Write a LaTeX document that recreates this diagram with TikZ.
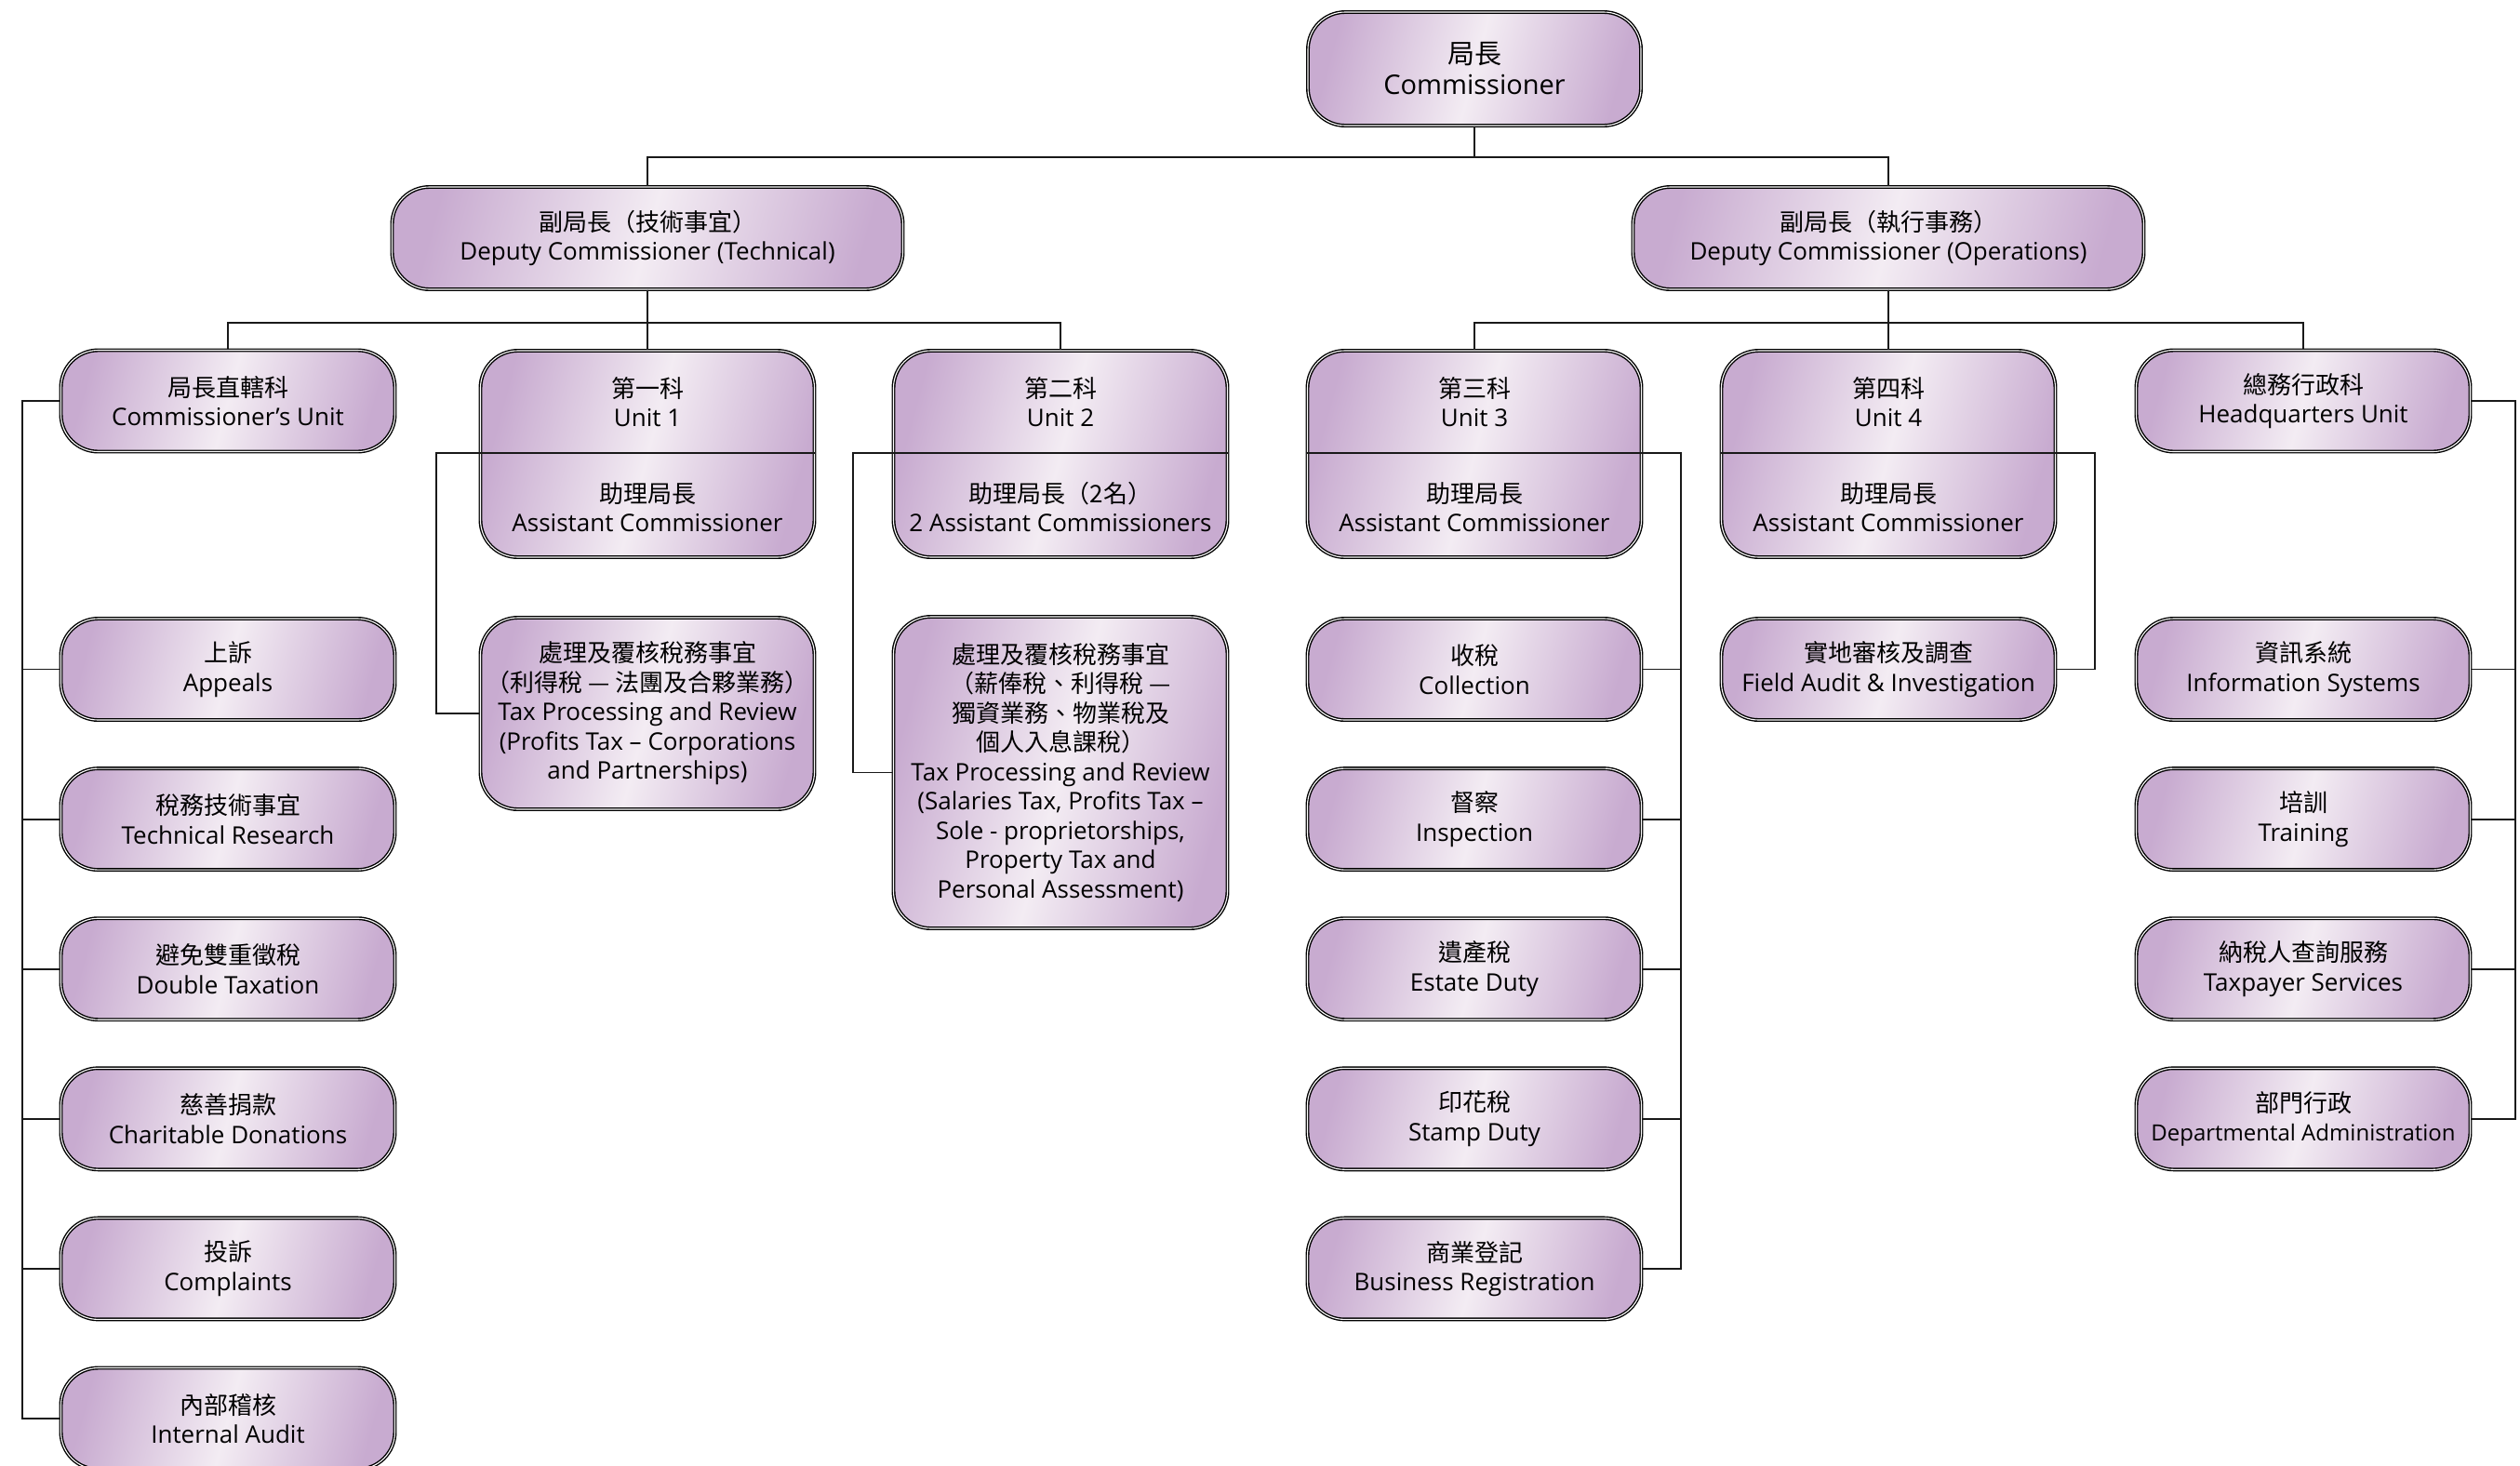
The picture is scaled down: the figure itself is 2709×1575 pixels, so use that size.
\documentclass[tikz,border=0pt]{standalone}
\usepackage{fontspec}
\setmainfont{Open Sans}
\newfontfamily\cjk{Noto Sans CJK TC}
\usetikzlibrary{calc}
\definecolor{boxdark}{RGB}{200,171,208}
\definecolor{boxlight}{RGB}{243,236,243}
\newcommand\zh[1]{{\cjk #1}}
\newcommand\bxf{\fontsize{26}{31.5}\selectfont}
\tikzset{
  orgbox/.style={draw=black, line width=1.4pt, double=white, double distance=1.1pt,
    rounded corners=40pt, left color=boxdark, right color=boxdark, middle color=boxlight,
    shading angle=75,
    minimum width=359pt, minimum height=109pt, inner sep=0pt, align=center, font=\bxf},
  lbl/.style={align=center, font=\bxf, inner sep=0pt},
  conn/.style={draw=black!90, line width=1.8pt}
}
\begin{document}
\begin{tikzpicture}[x=1pt,y=-1pt]
\useasboundingbox (0,0) rectangle (2709,1575);
\fill[white] (0,0) rectangle (2709,1575);
% bus coordinates
\coordinate (lbus) at (24,0);
\coordinate (bus1) at (469,0);
\coordinate (bus2) at (917,0);
\coordinate (bus3) at (1807,0);
\coordinate (bus4) at (2252,0);
\coordinate (bus6) at (2704,0);
\coordinate (divy) at (0,487);
% --- nodes ---
\node[orgbox, minimum width=358pt, minimum height=122pt, font=\fontsize{29}{33}\selectfont] (comm) at (1585,74) {\zh{局長}\\Commissioner};
\node[orgbox, minimum width=549pt, minimum height=110pt] (dtech) at (696,256) {\zh{副局長（技術事宜）}\\Deputy Commissioner (Technical)};
\node[orgbox, minimum width=549pt, minimum height=110pt] (dops) at (2030,256) {\zh{副局長（執行事務）}\\Deputy Commissioner (Operations)};
% row 3
\node[orgbox] (cu) at (245,431) {\zh{局長直轄科}\\Commissioner’s Unit};
\node[orgbox, minimum height=222pt] (u1) at (696,488) {};
\node[orgbox, minimum height=222pt] (u2) at (1140,488) {};
\node[orgbox, minimum height=222pt] (u3) at (1585,488) {};
\node[orgbox, minimum height=222pt] (u4) at (2030,488) {};
\node[orgbox] (hq) at (2476,431) {\zh{總務行政科}\\Headquarters Unit};
% unit labels
\node[lbl] (u1a) at (696,432) {\zh{第一科}\\Unit 1};
\node[lbl] (u1b) at (696,545) {\zh{助理局長}\\Assistant Commissioner};
\node[lbl] (u2a) at (1140,432) {\zh{第二科}\\Unit 2};
\node[lbl] (u2b) at (1140,545) {\zh{助理局長（2名）}\\2 Assistant Commissioners};
\node[lbl] (u3a) at (1585,432) {\zh{第三科}\\Unit 3};
\node[lbl] (u3b) at (1585,545) {\zh{助理局長}\\Assistant Commissioner};
\node[lbl] (u4a) at (2030,432) {\zh{第四科}\\Unit 4};
\node[lbl] (u4b) at (2030,545) {\zh{助理局長}\\Assistant Commissioner};
% left column
\node[orgbox] (ap) at (245,719.5) {\zh{上訴}\\Appeals};
\node[orgbox] (tr) at (245,880.6) {\zh{稅務技術事宜}\\Technical Research};
\node[orgbox] (dt) at (245,1041.7) {\zh{避免雙重徵稅}\\Double Taxation};
\node[orgbox] (cd) at (245,1202.8) {\zh{慈善捐款}\\Charitable Donations};
\node[orgbox] (cp) at (245,1363.9) {\zh{投訴}\\Complaints};
\node[orgbox] (ia) at (245,1525) {\zh{內部稽核}\\Internal Audit};
% unit 1 and 2 sub boxes
\node[orgbox, minimum height=206pt] (tp1) at (696,767) {\zh{處理及覆核稅務事宜}\\\zh{（利得稅 — 法團及合夥業務）}\\Tax Processing and Review\\(Profits Tax – Corporations\\and Partnerships)};
\node[orgbox, minimum height=335pt] (tp2) at (1140,830.5) {\zh{處理及覆核稅務事宜}\\\zh{（薪俸稅、利得稅 —}\\\zh{獨資業務、物業稅及}\\\zh{個人入息課稅）}\\Tax Processing and Review\\(Salaries Tax, Profits Tax –\\Sole - proprietorships,\\Property Tax and\\Personal Assessment)};
% unit 3 column
\node[orgbox] (col) at (1585,719.5) {\zh{收稅}\\Collection};
\node[orgbox] (ins) at (1585,880.6) {\zh{督察}\\Inspection};
\node[orgbox] (ed) at (1585,1041.7) {\zh{遺產稅}\\Estate Duty};
\node[orgbox] (sd) at (1585,1202.8) {\zh{印花稅}\\Stamp Duty};
\node[orgbox] (br) at (1585,1363.9) {\zh{商業登記}\\Business Registration};
% unit 4
\node[orgbox] (fa) at (2030,719.5) {\zh{實地審核及調查}\\Field Audit \& Investigation};
% hq column
\node[orgbox] (is) at (2476,719.5) {\zh{資訊系統}\\Information Systems};
\node[orgbox] (trn) at (2476,880.6) {\zh{培訓}\\Training};
\node[orgbox] (ts) at (2476,1041.7) {\zh{納稅人查詢服務}\\Taxpayer Services};
\node[orgbox] (da) at (2476,1202.8) {\zh{部門行政}\\{\fontsize{24}{31.5}\selectfont Departmental Administration}};
% --- connectors ---
\draw[conn] (comm.south) -- ++(0,33) -| (dtech.north);
\draw[conn] (comm.south) -- ++(0,33) -| (dops.north);
\draw[conn] (dtech.south) -- ++(0,35) -| (cu.north);
\draw[conn] (dtech.south) -- (u1.north);
\draw[conn] (dtech.south) -- ++(0,35) -| (u2.north);
\draw[conn] (dops.south) -- ++(0,35) -| (u3.north);
\draw[conn] (dops.south) -- (u4.north);
\draw[conn] (dops.south) -- ++(0,35) -| (hq.north);
% left bus
\draw[conn] (cu.west) -- (lbus |- cu.west) |- (ia.west);
\foreach \n in {ap,tr,dt,cd,cp} \draw[conn] (lbus |- \n.west) -- (\n.west);
% unit 1
\draw[conn] (u1.east |- divy) -- (bus1 |- divy) |- (tp1.west);
% unit 2
\draw[conn] (u2.east |- divy) -- (bus2 |- divy) |- (tp2.west);
% unit 3
\draw[conn] (u3.west |- divy) -- (bus3 |- divy) |- (br.east);
\foreach \n in {col,ins,ed,sd} \draw[conn] (bus3 |- \n.east) -- (\n.east);
% unit 4
\draw[conn] (u4.west |- divy) -- (bus4 |- divy) |- (fa.east);
% hq
\draw[conn] (hq.east) -- (bus6 |- hq.east) |- (da.east);
\foreach \n in {is,trn,ts} \draw[conn] (bus6 |- \n.east) -- (\n.east);
\end{tikzpicture}
\end{document}
